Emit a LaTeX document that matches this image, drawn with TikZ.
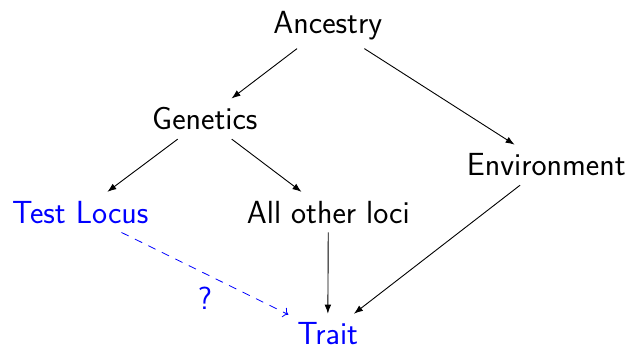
\documentclass[tikz,border=0pt]{standalone}
\usetikzlibrary{arrows.meta}
\begin{document}
\begin{tikzpicture}[var/.style={font=\fontsize{16}{19}\selectfont\sffamily, anchor=base, outer sep=1.2pt},
  link/.style={-{Latex[length=4.5pt,width=3.3pt]}, line width=0.45pt}]
\useasboundingbox (0,0) rectangle (11.124,6.151);
\node[var] (ancestry) at (5.76,5.57) {Ancestry};
\node[var] (genetics) at (3.60,3.87) {Genetics};
\node[var] (environment) at (9.60,3.06) {Environment};
\node[var, blue] (locus) at (1.41,2.23) {Test Locus};
\node[var] (otherloci) at (5.77,2.23) {All other loci};
\node[var, blue] (trait) at (5.76,0.09) {Trait};
\draw[link] (ancestry) -- (genetics);
\draw[link] (ancestry) -- (environment);
\draw[link] (genetics) -- (locus);
\draw[link] (genetics) -- (otherloci);
\draw[link] (otherloci) -- (trait);
\draw[link] (environment) -- (trait);
\draw[->, blue, dash pattern=on 4pt off 3.5pt] (locus) -- node[below=3pt, font=\fontsize{16}{19}\selectfont\sffamily] {?} (trait);
\end{tikzpicture}
\end{document}
